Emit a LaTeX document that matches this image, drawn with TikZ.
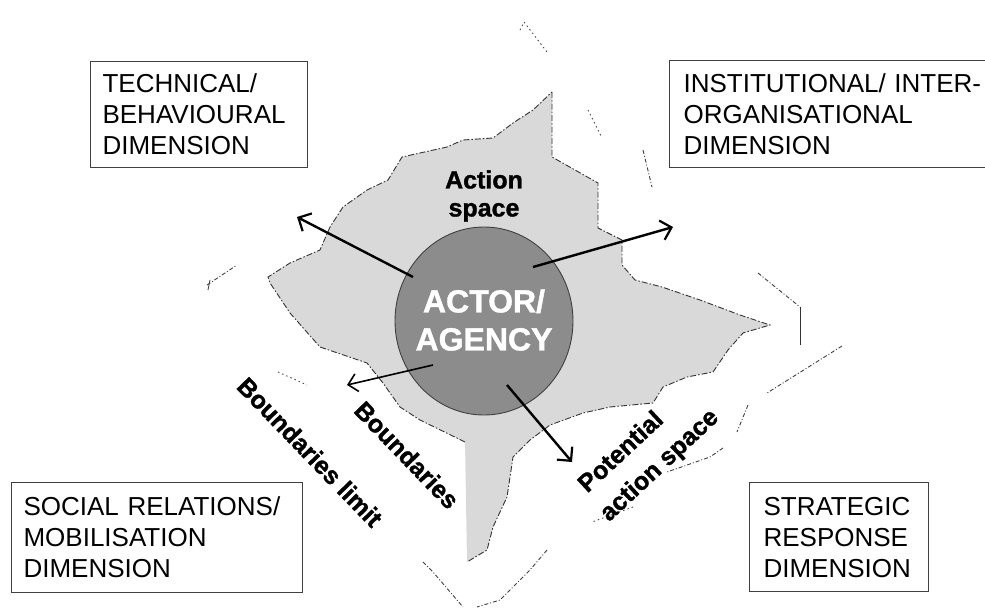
\documentclass[tikz,border=0pt]{standalone}
\usepackage{fontspec}
\setmainfont{Liberation Sans}
\newfontfamily\heavyfont[FakeBold=1.2]{Liberation Sans Bold}
\usetikzlibrary{arrows.meta,shapes.geometric}
\definecolor{regiongray}{gray}{0.85}
\definecolor{actorgray}{gray}{0.55}
\tikzset{
  dimbox/.style={draw=black!75, line width=1.1pt, anchor=north west, align=left,
    font=\fontsize{26}{31}\selectfont, inner ysep=0pt},
  lbl/.style={font=\heavyfont\fontsize{25}{29}\selectfont, inner sep=0pt},
  regionline/.style={draw=black!80, line width=0.9pt, dash pattern=on 6pt off 2pt on 1.5pt off 2pt},
  frag/.style={draw=black!75, line width=0.9pt, dash pattern=on 4pt off 2pt on 1pt off 2pt},
  dotfrag/.style={draw=black!70, line width=0.9pt, dash pattern=on 1.5pt off 3pt},
  arr/.style={draw=black, line width=2.4pt, -{Straight Barb[length=10pt,width=20pt,line width=2.2pt]}},
  thinarr/.style={draw=black, line width=1.6pt, -{Straight Barb[length=9pt,width=18pt,line width=1.6pt]}}
}
\begin{document}
\begin{tikzpicture}[x=1pt,y=-1pt]
\useasboundingbox (0,0) rectangle (985,608);
\clip (0,0) rectangle (985,608);

% action space region
\path[fill=regiongray] (552,92) -- (552,157) -- (598,183) -- (598,228) -- (622,240) -- (622,265)
  -- (635,280) -- (662,287) -- (700,300) -- (740,315) -- (770,325) -- (743,333) -- (728,350)
  -- (713,372) -- (687,377) -- (663,387) -- (653,403) -- (610,407) -- (583,413) -- (550,425)
  -- (530,440) -- (513,457) -- (507,497) -- (493,527) -- (487,550) -- (467,562) -- (465,442)
  -- (420,420) -- (400,407) -- (383,383) -- (367,363) -- (320,347) -- (290,313) -- (270,283)
  -- (268,277) -- (290,263) -- (320,250) -- (330,227) -- (343,207) -- (367,190) -- (388,180)
  -- (402,157) -- (447,147) -- (463,140) -- (493,138) -- (513,123) -- (533,110) -- cycle;
\path[regionline] (552,92) -- (552,157) -- (598,183) -- (598,228) -- (622,240) -- (622,265)
  -- (635,280) -- (662,287) -- (700,300) -- (740,315) -- (770,325) -- (743,333) -- (728,350)
  -- (713,372) -- (687,377) -- (663,387) -- (653,403) -- (610,407) -- (583,413) -- (550,425)
  -- (530,440) -- (513,457) -- (507,497) -- (493,527) -- (487,550) -- (467,562);
\path[regionline] (465,442)
  -- (420,420) -- (400,407) -- (383,383) -- (367,363) -- (320,347) -- (290,313) -- (270,283)
  -- (268,277) -- (290,263) -- (320,250) -- (330,227) -- (343,207) -- (367,190) -- (388,180)
  -- (402,157) -- (447,147) -- (463,140) -- (493,138) -- (513,123) -- (533,110) -- (552,92);

% outer boundary fragments
\path[dotfrag] (520,30) -- (524,22) -- (547,52);
\path[dotfrag] (588,110) -- (602,138);
\path[frag] (643,150) -- (652,187);
\path[frag] (758,273) -- (800,307);
\draw[black!80, line width=0.9pt] (800,307) -- (800,345);
\path[frag] (842,346) -- (767,393);
\path[frag] (748,405) -- (737,432);
\path[frag] (723,448) -- (710,457) -- (667,472);
\path[dotfrag] (633,507) -- (592,522);
\path[frag] (547,550) -- (530,570) -- (500,600) -- (477,607);
\path[frag] (423,562) -- (433,572) -- (463,607);
\path[dotfrag] (278,372) -- (307,385);
\path[frag] (207,285) -- (237,265);
\draw[black!75, line width=0.8pt] (210,280) -- (208,290);

% actor
\node[ellipse, fill=actorgray, draw=black!75, line width=0.9pt, minimum width=178pt,
  minimum height=188pt, inner sep=0pt] (actor) at (484,321) {};

% arrows
\coordinate (tls) at (413,277); \coordinate (tle) at (297,217);
\coordinate (trs) at (533,267); \coordinate (tre) at (673,227);
\coordinate (bls) at (433,365); \coordinate (ble) at (347,385);
\coordinate (brs) at (507,385); \coordinate (bre) at (572,462);
\draw[arr] (tls) -- (tle);
\draw[arr] (trs) -- (tre);
\draw[thinarr] (bls) -- (ble);
\draw[arr] (brs) -- (bre);

% actor text
\node[font=\heavyfont\fontsize{32}{38}\selectfont, text=white, align=center] (actortxt)
  at (484,320) {ACTOR/\\AGENCY};

% labels
\node[lbl, align=center] (action) at (484,196) {Action\\[-1pt]space};
\node[lbl, rotate=-46] (blimit) at (310,452) {Boundaries limit};
\node[lbl, rotate=-46] (bound) at (407,455) {Boundaries};
\node[lbl, rotate=43] (potential) at (620,451) {Potential};
\node[lbl, rotate=43] (aspace) at (660,466) {action space};

% dimension boxes
\node[dimbox, minimum width=217pt, minimum height=106pt, text width=193pt, inner xsep=12pt]
  (tech) at (90,61) {TECHNICAL/\\BEHAVIOURAL\\DIMENSION};
\node[dimbox, minimum width=340pt, minimum height=107pt, text width=312pt, inner xsep=14pt]
  (inst) at (669,60) {INSTITUTIONAL/ INTER-\\ORGANISATIONAL\\DIMENSION};
\node[dimbox, minimum width=291pt, minimum height=110pt, text width=267pt, inner xsep=12pt]
  (social) at (11,482) {SOCIAL RELATIONS/\\MOBILISATION\\DIMENSION};
\node[dimbox, minimum width=179pt, minimum height=109pt, text width=151pt, inner xsep=14pt]
  (strat) at (749,482) {STRATEGIC\\RESPONSE\\DIMENSION};
\end{tikzpicture}
\end{document}
